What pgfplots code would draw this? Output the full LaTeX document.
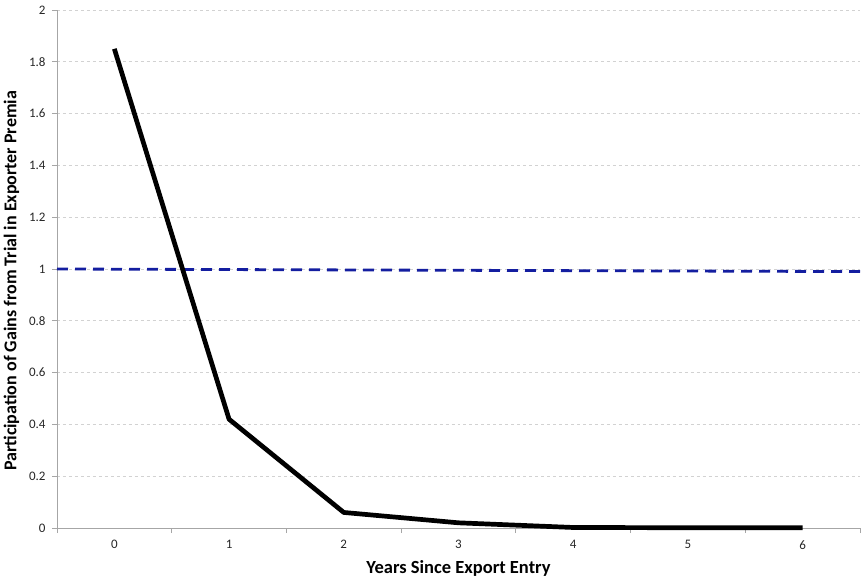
\documentclass[border=0pt]{standalone}
\usepackage{pgfplots}
\pgfplotsset{compat=1.18}
\usepackage{fontspec}
\setmainfont{Carlito}
\begin{document}
\begin{tikzpicture}[x=1bp,y=1bp]
\begin{axis}[
  scale only axis,
  width=803bp, height=518bp,
  xmin=-0.5, xmax=6.5, ymin=0, ymax=2,
  axis x line*=bottom, axis y line*=left,
  axis line style={draw=gray!70, line width=0.9bp},
  xtick={0,...,6},
  minor xtick={-0.5,0.5,...,6.5},
  major x tick style={draw=none},
  minor x tick style={draw=gray!70, line width=0.9bp},
  minor tick length=5bp,
  ytick={0,0.2,...,2},
  yticklabels={0,0.2,0.4,0.6,0.8,1,1.2,1.4,1.6,1.8,2},
  y tick style={draw=gray!70, line width=0.9bp},
  major tick length=5bp,
  tick align=outside,
  ymajorgrids,
  major grid style={draw=gray!35, dashed, line width=0.7bp},
  /pgf/number format/assume math mode=true,
  tick label style={font=\fontsize{13bp}{15bp}\selectfont, text=black!85},
  yticklabel style={xshift=-3bp},
  xticklabel style={yshift=-4bp},
  xlabel={Years Since Export Entry},
  ylabel={Participation of Gains from Trial in Exporter Premia},
  label style={font=\bfseries\fontsize{18bp}{20bp}\selectfont},
  xlabel style={font=\bfseries\fontsize{18.5bp}{20bp}\selectfont, at={(ticklabel cs:0.5,4bp)}},
  ylabel style={at={(ticklabel cs:0.477,3bp)}},
  clip=false,
]
\addplot[color={rgb,255:red,20;green,30;blue,160}, line width=2.8bp, dash pattern=on 11bp off 7bp] coordinates {(-0.5,1.0) (6.5,0.99)};
\addplot[black, line width=4.7bp, line join=round] coordinates {
(0,1.85) (1,0.42) (2,0.06) (3,0.02) (4,0.002) (5,0.001) (6,0.001)};
\coordinate (bl) at (rel axis cs:0,0);
\coordinate (tr) at (rel axis cs:1,1);
\end{axis}
\pgfresetboundingbox
\path ([shift={(-57bp,-52bp)}]bl) rectangle ([shift={(2bp,10bp)}]tr);
\end{tikzpicture}
\end{document}
